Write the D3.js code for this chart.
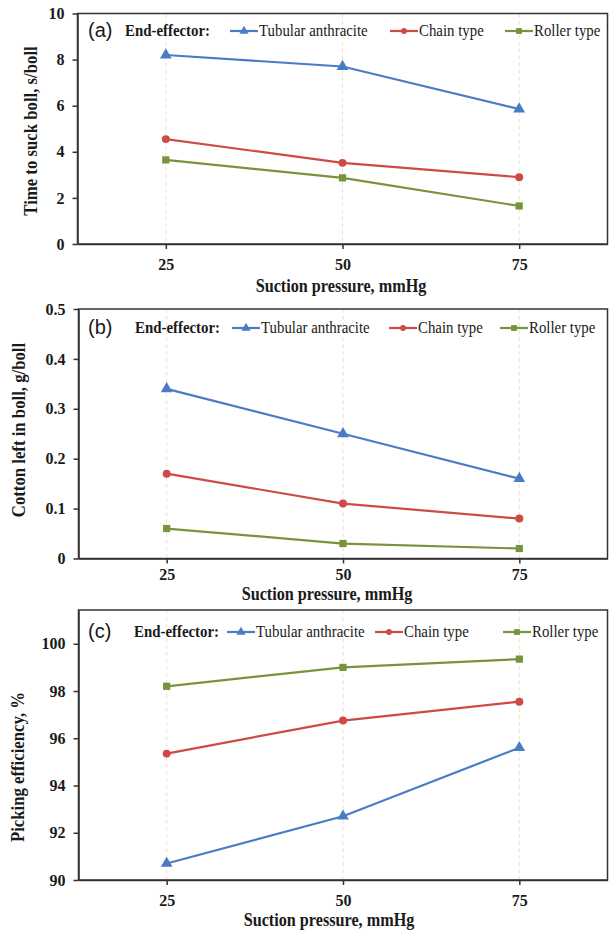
<!DOCTYPE html>
<html>
<head>
<meta charset="utf-8">
<script src="https://cdn.jsdelivr.net/npm/d3@7"></script>
<style>
  html, body { margin: 0; padding: 0; background: #fff; }
  svg { display: block; }
</style>
</head>
<body>
<div id="chart"></div>
<script>
// --- Daten ---
const pressures = [25, 50, 75];
const seriesNames = ['Tubular anthracite', 'Chain type', 'Roller type'];

// (a) Time to suck boll, s/boll
const timeTubular = [8.2, 7.7, 5.85];
const timeChain   = [4.55, 3.52, 2.9];
const timeRoller  = [3.65, 2.87, 1.65];
const timeTicks   = [0, 2, 4, 6, 8, 10];

// (b) Cotton left in boll, g/boll
const leftTubular = [0.34, 0.25, 0.16];
const leftChain   = [0.17, 0.11, 0.08];
const leftRoller  = [0.06, 0.03, 0.02];
const leftTicks   = [0, 0.1, 0.2, 0.3, 0.4, 0.5];

// (c) Picking efficiency, %
const effTubular = [90.7, 92.7, 95.6];
const effChain   = [95.35, 96.75, 97.55];
const effRoller  = [98.2, 99.0, 99.35];
const effTicks   = [90, 92, 94, 96, 98, 100];

const COLORS  = ['#4a7cc6', '#d04a45', '#77933c'];
const SYMBOLS = [d3.symbolTriangle, d3.symbolCircle, d3.symbolSquare];
const SERIF = '"Times New Roman", "Liberation Serif", serif';
const SANS  = 'Arial, "Liberation Sans", sans-serif';

const W = 610, H = 930;
const svg = d3.select('#chart').append('svg').attr('width', W).attr('height', H);

// Panel-Layout
const panels = [
  { tag: '(a)', top: 13.5, bottom: 244, left: 77.5, domain: [0, 10], ticks: timeTicks, fmt: d3.format('d'),
    series: [timeTubular, timeChain, timeRoller], yTitle: 'Time to suck boll, s/boll', yTitleX: 37,
    yTitleY: 131, tickLabelY: 270, xTitleX: 341, xTitleY: 292, legendY: 31, endX: 125,
    legendX: [230, 390, 505] },
  { tag: '(b)', top: 309, bottom: 558.5, left: 78.5, domain: [0, 0.5], ticks: leftTicks,
    fmt: d => d === 0 ? '0' : d3.format('.1f')(d),
    series: [leftTubular, leftChain, leftRoller], yTitle: 'Cotton left in boll, g/boll', yTitleX: 25,
    yTitleY: 430, tickLabelY: 579.5, xTitleX: 327, xTitleY: 599.5, legendY: 328, endX: 135,
    legendX: [232, 389, 500] },
  { tag: '(c)', top: 610, bottom: 880, left: 78.5, domain: [90, 101.43], ticks: effTicks, fmt: d3.format('d'),
    series: [effTubular, effChain, effRoller], yTitle: 'Picking efficiency, %', yTitleX: 24,
    yTitleY: 767, tickLabelY: 905.5, xTitleX: 329, xTitleY: 925.5, legendY: 632, endX: 134,
    legendX: [227, 375, 503] },
];

const RIGHT = 607.5;

// Text mit leichter horizontaler Stauchung (Original wirkt schmal gesetzt)
function squeezedText(parent, x, y, str, opts) {
  const rot = opts.rotate ? ' rotate(-90)' : '';
  return parent.append('text')
    .attr('transform', `translate(${x},${y})${rot} scale(${opts.sx || 1},1)`)
    .attr('text-anchor', opts.anchor || 'start')
    .attr('fill', '#1a1a1a')
    .style('font-family', opts.family || SERIF)
    .style('font-size', opts.size + 'px')
    .style('font-weight', opts.bold ? 'bold' : 'normal')
    .text(str);
}

panels.forEach(p => {
  const g = svg.append('g');

  const x = d3.scaleLinear().domain([12.5, 87.5]).range([p.left, RIGHT]);
  const y = d3.scaleLinear().domain(p.domain).range([p.bottom, p.top]);

  // gestrichelte Hilfslinien
  g.append('g')
    .selectAll('line')
    .data(pressures)
    .join('line')
    .attr('x1', d => x(d)).attr('x2', d => x(d))
    .attr('y1', p.top).attr('y2', p.bottom)
    .attr('stroke', '#f2e3c6')
    .attr('stroke-width', 1)
    .attr('stroke-dasharray', '4,3');

  // Achsen
  const yAxis = g.append('g')
    .attr('transform', `translate(${p.left},0)`)
    .call(d3.axisLeft(y).tickValues(p.ticks).tickFormat(p.fmt).tickSize(5).tickSizeOuter(0).tickPadding(8));

  const xAxis = g.append('g')
    .attr('transform', `translate(0,${p.bottom})`)
    .call(d3.axisBottom(x).tickValues(pressures).tickFormat(d3.format('d')).tickSize(5).tickSizeOuter(0));

  [yAxis, xAxis].forEach(ax => {
    ax.selectAll('path, line').attr('stroke', '#333').attr('stroke-width', 1.5);
    ax.selectAll('text')
      .attr('fill', '#1a1a1a')
      .style('font-family', SERIF)
      .style('font-size', '16px')
      .style('font-weight', 'bold');
  });
  xAxis.selectAll('.tick text').attr('dy', null)
    .attr('y', p.tickLabelY - p.bottom);

  // Rahmen
  g.append('rect')
    .attr('x', p.left).attr('y', p.top)
    .attr('width', RIGHT - p.left).attr('height', p.bottom - p.top)
    .attr('fill', 'none')
    .attr('stroke', '#333')
    .attr('stroke-width', 1.5);

  // Linien + Marker
  const line = d3.line().x((d, i) => x(pressures[i])).y(d => y(d));

  p.series.forEach((vals, si) => {
    g.append('path')
      .datum(vals)
      .attr('d', line)
      .attr('fill', 'none')
      .attr('stroke', COLORS[si])
      .attr('stroke-width', 2.2);

    g.append('g')
      .selectAll('path')
      .data(vals)
      .join('path')
      .attr('transform', (d, i) => `translate(${x(pressures[i])},${y(d)})`)
      .attr('d', d3.symbol().type(SYMBOLS[si]).size(si === 0 ? 60 : si === 1 ? 50 : 52))
      .attr('fill', COLORS[si]);
  });

  // Achsentitel
  squeezedText(g, p.yTitleX, p.yTitleY, p.yTitle, { size: 18, sx: 0.93, bold: true, anchor: 'middle', rotate: true });
  squeezedText(g, p.xTitleX, p.xTitleY, 'Suction pressure, mmHg', { size: 18, sx: 0.9, bold: true, anchor: 'middle' });

  // --- Legende ---
  const ly = p.legendY;
  squeezedText(g, 88, ly + 5.5, p.tag, { size: 20, sx: 1, family: SANS });
  squeezedText(g, p.endX, ly + 4.5, 'End-effector:', { size: 16, sx: 0.93, bold: true });

  seriesNames.forEach((name, si) => {
    const lx = p.legendX[si];
    g.append('line')
      .attr('x1', lx).attr('x2', lx + 28)
      .attr('y1', ly).attr('y2', ly)
      .attr('stroke', COLORS[si])
      .attr('stroke-width', 2.2);
    g.append('path')
      .attr('transform', `translate(${lx + 14},${ly})`)
      .attr('d', d3.symbol().type(SYMBOLS[si]).size(si === 0 ? 36 : si === 1 ? 26 : 34))
      .attr('fill', COLORS[si]);
    squeezedText(g, lx + 29, ly + 5, name, { size: 16.5, sx: 0.9 });
  });
});
</script>
</body>
</html>
